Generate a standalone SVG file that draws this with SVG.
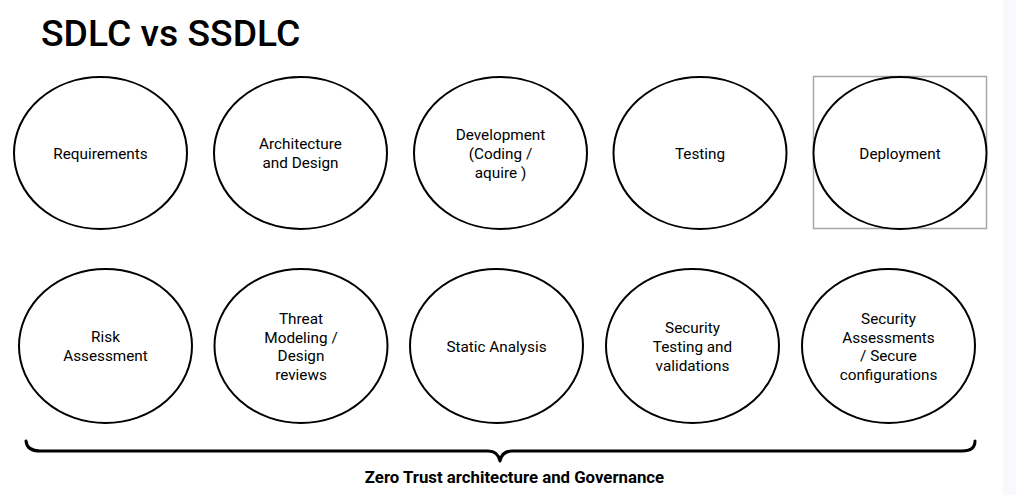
<svg xmlns="http://www.w3.org/2000/svg" width="1016" height="495" viewBox="0 0 1016 495">
<style>
.n{fill:#fff;stroke:#000;stroke-width:2}
.t{font-family:Roboto,"Liberation Sans",sans-serif;font-size:15.3px;fill:#000;text-anchor:middle}
.title{font-family:Roboto,"Liberation Sans",sans-serif;font-size:37.3px;font-weight:500;fill:#000}
.lbl{font-family:Roboto,"Liberation Sans",sans-serif;font-size:16.8px;font-weight:700;fill:#000;text-anchor:middle}
</style>
<rect x="0" y="0" width="1016" height="495" fill="#fff"/>
<rect x="1003" y="0" width="13" height="495" fill="#f8f9fd"/>
<text class="title" x="41" y="46">SDLC vs SSDLC</text>
<g id="requirements"><ellipse class="n" cx="100.5" cy="153" rx="86.5" ry="76"/><text class="t" x="100.5" y="159">Requirements</text></g>
<g id="architecture"><ellipse class="n" cx="300.5" cy="153" rx="86.5" ry="76"/><text class="t" x="300.5" y="149">Architecture</text><text class="t" x="300.5" y="168">and Design</text></g>
<g id="development"><ellipse class="n" cx="500.5" cy="153" rx="86.5" ry="76"/><text class="t" x="500.5" y="140">Development</text><text class="t" x="500.5" y="159">(Coding /</text><text class="t" x="500.5" y="178">aquire )</text></g>
<g id="testing"><ellipse class="n" cx="700" cy="153" rx="86.5" ry="76"/><text class="t" x="700" y="159">Testing</text></g>
<g id="deployment"><rect x="813.5" y="76.5" width="173" height="152" fill="none" stroke="#a6a6a6" stroke-width="1.5"/><ellipse class="n" cx="900" cy="153" rx="86.5" ry="76"/><text class="t" x="900" y="159">Deployment</text></g>
<g id="risk"><ellipse class="n" cx="105.5" cy="346" rx="86.5" ry="77"/><text class="t" x="105.5" y="342">Risk</text><text class="t" x="105.5" y="361">Assessment</text></g>
<g id="threat"><ellipse class="n" cx="301" cy="346" rx="86.5" ry="77"/><text class="t" x="301" y="324">Threat</text><text class="t" x="301" y="343">Modeling /</text><text class="t" x="301" y="361">Design</text><text class="t" x="301" y="380">reviews</text></g>
<g id="static"><ellipse class="n" cx="496.5" cy="346" rx="86.5" ry="77"/><text class="t" x="496.5" y="352">Static Analysis</text></g>
<g id="sectest"><ellipse class="n" cx="692.5" cy="346" rx="86.5" ry="77"/><text class="t" x="692.5" y="333">Security</text><text class="t" x="692.5" y="352">Testing and</text><text class="t" x="692.5" y="371">validations</text></g>
<g id="secassess"><ellipse class="n" cx="888.5" cy="346" rx="86.5" ry="77"/><text class="t" x="888.5" y="324">Security</text><text class="t" x="888.5" y="343">Assessments</text><text class="t" x="888.5" y="361">/ Secure</text><text class="t" x="888.5" y="380">configurations</text></g>
<g id="connectors">
<path d="M26,441 Q27,451 40,451 L488,451 Q498,451 500,461 Q502,451 512,451 L962,451 Q975,451 975,441" fill="none" stroke="#000" stroke-width="3" stroke-linecap="round" stroke-linejoin="round"/>
</g>
<text class="lbl" x="514.5" y="483">Zero Trust architecture and Governance</text>
</svg>
